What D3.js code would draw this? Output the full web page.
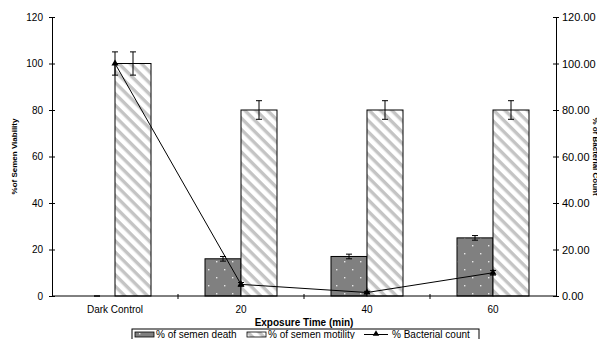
<!DOCTYPE html>
<html>
<head>
<meta charset="utf-8">
<script src="https://cdn.jsdelivr.net/npm/d3@7"></script>
<style>
  body { margin: 0; background: #fff; }
  svg { font-family: "Liberation Sans", Arial, sans-serif; }
</style>
</head>
<body>
<div id="chart"></div>
<script>
// data
const categories = ["Dark Control", "20", "40", "60"];
const deathValues = [0, 16, 17, 25];
const deathErrors = [0, 1, 1, 1];
const motilityValues = [100, 80, 80, 80];
const motilityErrors = [5, 4, 4, 4];
const bacterialValues = [100, 5, 1.5, 10];
const bacterialErrors = [5, 0.8, 0.5, 1];
const leftTicks = [0, 20, 40, 60, 80, 100, 120];

const W = 597, H = 339;
const margin = {top: 17, right: 41, bottom: 43, left: 52},
    width = W - margin.left - margin.right,
    height = H - margin.top - margin.bottom;

const svg = d3.select("#chart")
  .append("svg")
    .attr("width", W)
    .attr("height", H);

const defs = svg.append("defs");

// dotted grey fill for death bars
const dots = defs.append("pattern")
    .attr("id", "dots")
    .attr("patternUnits", "userSpaceOnUse")
    .attr("width", 16).attr("height", 16);
dots.append("rect").attr("width", 16).attr("height", 16).attr("fill", "#808080");
[[4, 4], [12, 12]].forEach(p => {
  dots.append("rect").attr("x", p[0]).attr("y", p[1]).attr("width", 1.4).attr("height", 1.4).attr("fill", "#e8e8e8");
});

// diagonal stripes for motility bars
const stripes = defs.append("pattern")
    .attr("id", "stripes")
    .attr("patternUnits", "userSpaceOnUse")
    .attr("width", 8).attr("height", 8)
    .attr("patternTransform", "rotate(45)");
stripes.append("rect").attr("width", 8).attr("height", 8).attr("fill", "#fff");
stripes.append("rect").attr("x", 0).attr("y", 0).attr("width", 8).attr("height", 3.4).attr("fill", "#c4c4c4");

const g = svg.append("g")
    .attr("transform", `translate(${margin.left},${margin.top})`);

const x = d3.scaleBand()
    .domain(categories)
    .range([0, width])
    .padding(0);

const sub = d3.scaleBand()
    .domain(["death", "motility"])
    .range([x.bandwidth() / 2 - 36, x.bandwidth() / 2 + 36]);

const y = d3.scaleLinear().domain([0, 120]).range([height, 0]);

// bars
const bars = [
  {key: "death", values: deathValues, errors: deathErrors, fill: "url(#dots)"},
  {key: "motility", values: motilityValues, errors: motilityErrors, fill: "url(#stripes)"}
];

bars.forEach(s => {
  g.selectAll(".bar-" + s.key)
    .data(categories)
    .join("rect")
      .attr("x", (d, i) => x(d) + sub(s.key))
      .attr("y", (d, i) => y(s.values[i]))
      .attr("width", sub.bandwidth())
      .attr("height", (d, i) => height - y(s.values[i]))
      .attr("fill", s.fill)
      .attr("stroke", (d, i) => s.values[i] > 0 ? "#000" : "none")
      .attr("stroke-width", 1);
});

// error bars helper
function errorBars(cx, vals, errs) {
  const eg = g.append("g").attr("stroke", "#000").attr("stroke-width", 1);
  categories.forEach((c, i) => {
    const xx = cx(c);
    const y1 = y(vals[i] + errs[i]), y2 = y(vals[i] - errs[i]);
    eg.append("line").attr("x1", xx).attr("x2", xx).attr("y1", y1).attr("y2", y2);
    eg.append("line").attr("x1", xx - 3).attr("x2", xx + 3).attr("y1", y1).attr("y2", y1);
    eg.append("line").attr("x1", xx - 3).attr("x2", xx + 3).attr("y1", y2).attr("y2", y2);
  });
}
errorBars(c => x(c) + sub("death") + sub.bandwidth() / 2, deathValues, deathErrors);
errorBars(c => x(c) + sub("motility") + sub.bandwidth() / 2, motilityValues, motilityErrors);

// bacterial count line
const cxLine = c => x(c) + x.bandwidth() / 2;
errorBars(cxLine, bacterialValues, bacterialErrors);

g.append("path")
  .datum(categories)
    .attr("fill", "none")
    .attr("stroke", "#000")
    .attr("stroke-width", 1)
    .attr("d", d3.line().x(d => cxLine(d)).y((d, i) => y(bacterialValues[i])));

g.selectAll(".tri")
  .data(categories)
  .join("path")
    .attr("d", d3.symbol().type(d3.symbolTriangle).size(22))
    .attr("transform", (d, i) => `translate(${cxLine(d)},${y(bacterialValues[i])})`)
    .attr("fill", "#000");

// axes
const axisStyle = (sel, fs) => {
  sel.selectAll("path").attr("stroke", "#000");
  sel.selectAll("line").attr("stroke", "#000");
  sel.selectAll("text").attr("font-size", fs).attr("fill", "#000");
};

const leftAxis = g.append("g")
    .call(d3.axisLeft(y).tickValues(leftTicks).tickSize(3).tickSizeOuter(0).tickPadding(6));
leftAxis.selectAll(".tick line").attr("x2", 3).attr("x1", -3);
axisStyle(leftAxis, 10);

const rightAxis = g.append("g")
    .attr("transform", `translate(${width},0)`)
    .call(d3.axisRight(y).tickValues(leftTicks).tickSize(3).tickSizeOuter(0).tickPadding(3)
      .tickFormat(d3.format(".2f")));
rightAxis.selectAll(".tick line").attr("x1", -3).attr("x2", 3);
axisStyle(rightAxis, 11);

// x axis: baseline with ticks between categories
const xAxis = g.append("g").attr("transform", `translate(0,${height})`);
xAxis.append("line").attr("x1", 0).attr("x2", width).attr("stroke", "#000");
xAxis.selectAll(".sep")
  .data(categories.slice(1))
  .join("line")
    .attr("x1", d => x(d)).attr("x2", d => x(d))
    .attr("y1", -2).attr("y2", 3)
    .attr("stroke", "#000");
xAxis.selectAll(".lab")
  .data(categories)
  .join("text")
    .attr("x", d => cxLine(d))
    .attr("y", 17)
    .attr("text-anchor", "middle")
    .attr("font-size", 10)
    .text(d => d);

// axis titles
svg.append("text")
    .attr("x", margin.left + width / 2)
    .attr("y", 326)
    .attr("text-anchor", "middle")
    .attr("font-size", 10)
    .attr("font-weight", "bold")
    .text("Exposure Time (min)");

svg.append("text")
    .attr("transform", `translate(17,${margin.top + height / 2}) rotate(-90)`)
    .attr("text-anchor", "middle")
    .attr("font-size", 8)
    .attr("font-weight", "bold")
    .text("%of Semen Viability");

svg.append("text")
    .attr("transform", `translate(593,${margin.top + height / 2}) rotate(90)`)
    .attr("text-anchor", "middle")
    .attr("font-size", 8)
    .attr("font-weight", "bold")
    .text("% of Bacterial Count");

// legend
const leg = svg.append("g").attr("transform", "translate(132,329)");
leg.append("rect")
    .attr("width", 347).attr("height", 14)
    .attr("fill", "#fff").attr("stroke", "#000");
const items = [
  {label: "% of semen death", type: "death", x: 3},
  {label: "% of semen motility", type: "motility", x: 115},
  {label: "% Bacterial count", type: "line", x: 232}
];
items.forEach(it => {
  const ig = leg.append("g").attr("transform", `translate(${it.x},0)`);
  if (it.type === "line") {
    ig.append("line").attr("x1", 0).attr("x2", 24).attr("y1", 5.5).attr("y2", 5.5).attr("stroke", "#000");
    ig.append("path").attr("d", d3.symbol().type(d3.symbolTriangle).size(18)())
      .attr("transform", "translate(12,5)").attr("fill", "#000");
    ig.select("text");
  } else {
    ig.append("rect").attr("x", 0).attr("y", 3).attr("width", 19).attr("height", 5)
      .attr("fill", it.type === "death" ? "url(#dots)" : "url(#stripes)")
      .attr("stroke", "#000").attr("stroke-width", 0.8);
  }
  ig.append("text").attr("x", it.type === "line" ? 28 : 21).attr("y", 9).attr("font-size", 10).text(it.label);
});
</script>
</body>
</html>
